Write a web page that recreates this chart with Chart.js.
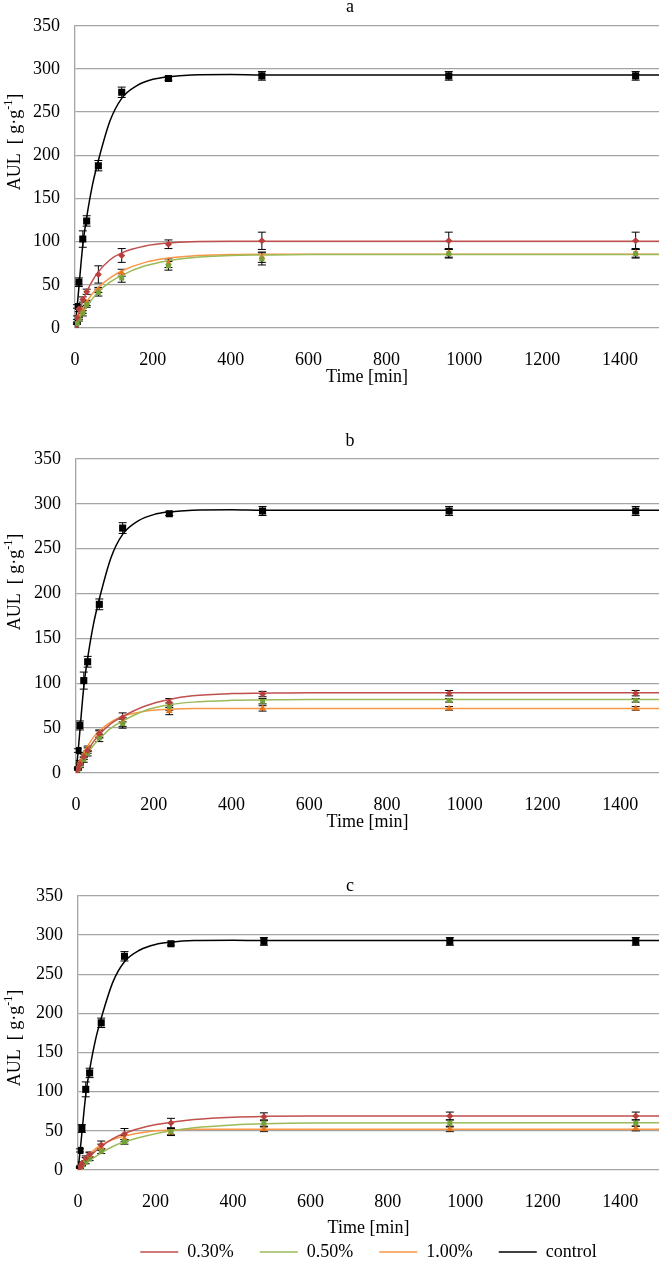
<!DOCTYPE html>
<html>
<head>
<meta charset="utf-8">
<script src="https://cdn.jsdelivr.net/npm/chart.js@4/dist/chart.umd.min.js"></script>
<style>
  html, body { margin: 0; padding: 0; background: #fff; }
  body { width: 665px; height: 1271px; position: relative; overflow: hidden; }
  canvas { position: absolute; left: 0; }
</style>
</head>
<body>
<canvas id="chartA" width="665" height="388" style="top:0"></canvas>
<canvas id="chartB" width="665" height="433" style="top:400px"></canvas>
<canvas id="chartC" width="665" height="421" style="top:850px"></canvas>
<script>
// sampling times of the measured points [min]
const timeMin = [0, 5, 10, 20, 30, 60, 120, 240, 480, 960, 1440];
const fitTime = [0, 10, 20, 30, 45, 60, 90, 120, 180, 240, 300, 400, 480, 600, 1500];
const controlFitTime = [0, 5, 10, 20, 30, 45, 60, 90, 120, 160, 200, 240, 300, 400, 480, 600, 960, 1440, 1500];

const seriesNames = ['0.30%', '0.50%', '1.00%', 'control'];

// control (same in every panel)
const controlAUL = [0, 25, 53, 103, 124, 188, 273, 289, 292, 292, 292];
const controlErr = [0, 2, 5, 9.5, 6, 6, 6, 2, 5, 5, 5];
const controlFit = [0, 22, 47, 96, 128, 166, 194, 240, 266, 281, 288, 291, 293, 293.5, 293, 293, 293, 293, 293];

// panel a
const a030 = [0, 12, 22, 33, 42, 62, 84, 97, 101, 101, 101];
const a030Err = [0, 2, 3, 3, 3, 10, 8, 5, 10, 10, 10];
const a030Fit = [0, 18, 31, 42, 55, 65, 79, 87, 95, 98.5, 100, 100.5, 100.5, 100.5, 100.5];
const a050 = [0, 5, 10, 17, 27, 41, 58, 72, 80, 86, 86];
const a050Err = [0, 1, 2, 3, 3, 4, 5, 5, 7, 5, 5];
const a050Fit = [0, 10, 18, 25, 34, 42, 53, 61, 72, 78, 81.5, 84, 84.5, 85, 85];
const a100 = [0, 6, 12, 20, 29, 44, 64, 75, 82, 87, 87];
const a100Err = [0, 1, 2, 3, 3, 3, 4, 5, 6, 5, 5];
const a100Fit = [0, 12, 22, 30, 40, 47, 58, 66, 76, 81, 83.5, 85, 85.5, 85.5, 85.5];

// panel b
const b030 = [0, 5, 10, 18, 25, 44, 62, 79, 88, 89, 89];
const b030Err = [0, 1, 2, 3, 3, 4, 5, 4, 3, 3, 3];
const b030Fit = [0, 9, 17, 25, 35, 43, 55, 63, 75, 82, 86, 88.5, 89, 89.5, 89.5];
const b050 = [0, 4, 8, 15, 22, 39, 55, 74, 80, 81, 81];
const b050Err = [0, 1, 2, 3, 3, 4, 5, 4, 3, 2, 2];
const b050Fit = [0, 8, 15, 22, 31, 38, 50, 58, 70, 76, 79, 81, 81.5, 82, 82];
const b100 = [0, 6, 12, 20, 27, 43, 57, 69, 72, 72, 72];
const b100Err = [0, 1, 2, 3, 3, 4, 5, 4, 3, 2, 2];
const b100Fit = [0, 12, 22, 30, 40, 47, 57, 63, 69, 71, 72, 72, 72, 72, 72];

// panel c
const c030 = [0, 4, 8, 15, 20, 32, 46, 60, 68, 69, 69];
const c030Err = [0, 1, 2, 3, 3, 5, 7, 6, 5, 5, 5];
const c030Fit = [0, 6, 12, 17, 24, 30, 40, 47, 56, 61, 64.5, 67.5, 68.5, 69, 69];
const c050 = [0, 3, 6, 10, 14, 24, 36, 49, 60, 60, 60];
const c050Err = [0, 1, 1, 2, 2, 3, 3, 4, 4, 4, 4];
const c050Fit = [0, 4, 8, 12, 17, 22, 30, 36, 44, 50, 54, 57.5, 59, 60, 60.5];
const c100 = [0, 4, 8, 14, 19, 29, 40, 48, 52, 52, 53];
const c100Err = [0, 1, 2, 2, 3, 4, 4, 4, 3, 3, 3];
const c100Fit = [0, 7, 14, 20, 27, 32, 39, 43.5, 49, 51, 52, 52, 52, 52, 52];

const lineColors = ['#c0504d', '#9bbb59', '#f79646', '#000000'];
const markerColors = ['#b8403c', '#76a13a', '#e8761c', '#000000'];
const markerStyles = ['rectRot', 'rect', 'triangle', 'rect'];
const markerSizes = [3.5, 3.5, 4, 5];

const serif = '"Liberation Serif", "Times New Roman", serif';
Chart.defaults.font.family = serif;
Chart.defaults.font.size = 18;
Chart.defaults.color = '#000';

function xy(xs, ys) {
    return xs.map((x, i) => ({x: x, y: ys[i]}));
}

// vertical error bars with caps, placed through the y scale
const errorBars = {
    id: 'errorBars',
    beforeDatasetsDraw(chart) {
        const ctx = chart.ctx;
        const yScale = chart.scales.y;
        ctx.save();
        ctx.strokeStyle = '#000';
        ctx.lineWidth = 1;
        chart.data.datasets.forEach((ds, i) => {
            if (!ds.errors) return;
            chart.getDatasetMeta(i).data.forEach((pt, j) => {
                const e = ds.errors[j];
                if (!e) return;
                const v = ds.data[j].y;
                const top = yScale.getPixelForValue(v + e);
                const bot = yScale.getPixelForValue(v - e);
                ctx.beginPath();
                ctx.moveTo(pt.x, top); ctx.lineTo(pt.x, bot);
                ctx.moveTo(pt.x - 4, top); ctx.lineTo(pt.x + 4, top);
                ctx.moveTo(pt.x - 4, bot); ctx.lineTo(pt.x + 4, bot);
                ctx.stroke();
            });
        });
        ctx.restore();
    }
};

// panel letter and the y-axis title with its superscript
const panelText = {
    id: 'panelText',
    afterDraw(chart, args, opts) {
        const ctx = chart.ctx;
        const big = '18px ' + serif;
        const small = '12px ' + serif;
        ctx.save();
        ctx.fillStyle = '#000';
        ctx.font = big;
        ctx.textAlign = 'center';
        ctx.textBaseline = 'middle';
        ctx.fillText(opts.letter, opts.letterX, opts.letterY);

        ctx.translate(opts.titleX, opts.titleY);
        ctx.rotate(-Math.PI / 2);
        ctx.textAlign = 'left';
        const main = 'AUL  [ g\u00b7g';
        const sup = '-1';
        const end = ']';
        const w1 = ctx.measureText(main).width;
        const w3 = ctx.measureText(end).width;
        ctx.font = small;
        const w2 = ctx.measureText(sup).width;
        let x = -(w1 + w2 + w3) / 2;
        ctx.font = big;
        ctx.fillText(main, x, 0);
        x += w1;
        ctx.font = small;
        ctx.fillText(sup, x, -6);
        x += w2;
        ctx.font = big;
        ctx.fillText(end, x, 0);
        ctx.restore();
    }
};

function makePanel(canvasId, means, errs, fits, look) {
    const datasets = [];
    for (let i = 0; i < 4; i++) {
        datasets.push({
            label: seriesNames[i] + ' mean',
            data: xy(timeMin, means[i]),
            errors: errs[i],
            showLine: false,
            pointStyle: markerStyles[i],
            pointRadius: markerSizes[i],
            pointBorderWidth: 0,
            backgroundColor: markerColors[i],
            borderColor: markerColors[i]
        });
    }
    for (let i = 0; i < 4; i++) {
        datasets.push({
            label: seriesNames[i],
            data: xy(i === 3 ? controlFitTime : fitTime, fits[i]),
            fit: true,
            showLine: true,
            pointRadius: 0,
            pointBorderWidth: 1.5,
            borderColor: lineColors[i],
            backgroundColor: lineColors[i],
            borderWidth: 1.5,
            cubicInterpolationMode: 'monotone'
        });
    }

    const font = {family: serif, size: 18};
    return new Chart(document.getElementById(canvasId), {
        type: 'scatter',
        data: {datasets: datasets},
        options: {
            responsive: false,
            animation: false,
            events: [],
            layout: {padding: {top: look.padTop, right: 6, left: 0, bottom: 0}},
            scales: {
                x: {
                    type: 'linear',
                    min: 0,
                    max: 1500,
                    ticks: {stepSize: 200, includeBounds: false, padding: 13, maxRotation: 0,
                        font: font, color: '#000', callback: v => String(v)},
                    grid: {display: false},
                    border: {display: false},
                    title: {display: true, text: 'Time [min]', font: font, color: '#000',
                        padding: {top: 0, bottom: look.xTitlePad}},
                    afterFit: s => { s.height = look.xHeight; }
                },
                y: {
                    min: 0,
                    max: 350,
                    ticks: {stepSize: 50, padding: 15, font: font, color: '#000', callback: v => String(v)},
                    grid: {color: '#a5a5a5', lineWidth: 1.3, drawTicks: false},
                    border: {display: true, color: '#a5a5a5', width: 1.3},
                    afterFit: s => { s.width = look.yWidth; }
                }
            },
            plugins: {
                tooltip: {enabled: false},
                legend: {
                    display: look.legend,
                    position: 'bottom',
                    fullSize: false,
                    labels: {
                        font: font,
                        color: '#000',
                        usePointStyle: true,
                        pointStyle: 'line',
                        pointStyleWidth: 38,
                        padding: 26,
                        filter: (item, data) => data.datasets[item.datasetIndex].fit
                    }
                },
                panelText: {
                    letter: look.letter, letterX: 350, letterY: look.letterY,
                    titleX: 15, titleY: look.titleY
                }
            }
        },
        plugins: [errorBars, panelText]
    });
}

makePanel('chartA',
    [a030, a050, a100, controlAUL],
    [a030Err, a050Err, a100Err, controlErr],
    [a030Fit, a050Fit, a100Fit, controlFit],
    {padTop: 19, xHeight: 60, xTitlePad: 0, yWidth: 75, legend: false, letter: 'a', letterY: 7, titleY: 142});

makePanel('chartB',
    [b030, b050, b100, controlAUL],
    [b030Err, b050Err, b100Err, controlErr],
    [b030Fit, b050Fit, b100Fit, controlFit],
    {padTop: 59, xHeight: 60, xTitlePad: 0, yWidth: 76, legend: false, letter: 'b', letterY: 41, titleY: 182});

makePanel('chartC',
    [c030, c050, c100, controlAUL],
    [c030Err, c050Err, c100Err, controlErr],
    [c030Fit, c050Fit, c100Fit, controlFit],
    {padTop: 46, xHeight: 47, xTitlePad: -22, yWidth: 78, legend: true, letter: 'c', letterY: 36, titleY: 188});
</script>
</body>
</html>
